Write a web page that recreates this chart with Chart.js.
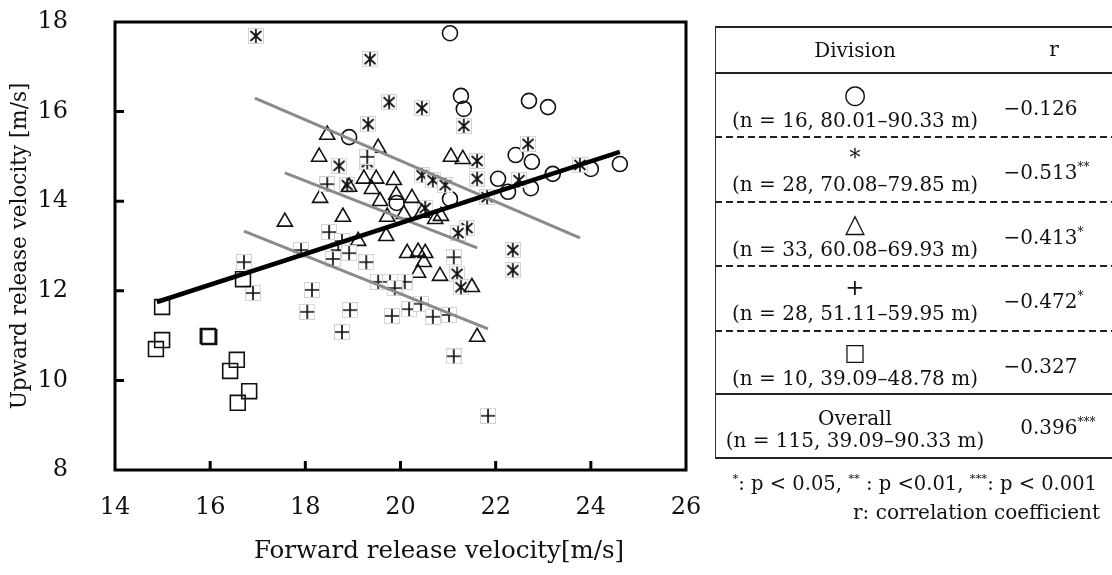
<!DOCTYPE html>
<html>
<head>
<meta charset="utf-8">
<script src="https://cdn.jsdelivr.net/npm/chart.js@4.4.0/dist/chart.umd.min.js"></script>
<style>
  html, body { margin: 0; padding: 0; background: #fff; }
  body { width: 1112px; height: 575px; position: relative; overflow: hidden; font-family: 'DejaVu Serif', serif; color: #111; }
  #chartBox { position: absolute; left: 0; top: 0; width: 712px; height: 575px; }
  .rule { position: absolute; left: 715px; right: 0; background: #222; }
  .dash { position: absolute; left: 715px; right: 0; height: 2px;
          background: repeating-linear-gradient(to right, #222 0 7px, transparent 7px 11px); }
  .txt { position: absolute; white-space: nowrap; line-height: 1; will-change: transform; }
  .sup { font-size: 0.6em; position: relative; top: -0.7em; }
</style>
</head>
<body>
<div id="chartBox"><canvas id="scatterChart" width="712" height="575"></canvas></div>
<script>
// groups by throwing distance: x = forward, y = upward release velocity [m/s]
const circleX = [21.04, 21.27, 21.33, 22.70, 23.10, 22.42, 22.76, 22.05, 22.26, 22.74, 23.20, 24.00, 24.61, 21.04, 19.92, 18.92];
const circleY = [17.75, 16.35, 16.06, 16.24, 16.10, 15.03, 14.88, 14.50, 14.21, 14.29, 14.61, 14.72, 14.83, 14.05, 13.96, 15.43];

const starX = [16.96, 19.36, 19.76, 20.45, 21.33, 22.68, 21.61, 21.61, 20.45, 20.68, 20.94, 21.82, 22.49, 23.77,
               20.52, 21.40, 21.21, 19.32, 18.71, 19.30, 18.88, 22.36, 22.36, 21.19, 21.27];
const starY = [17.69, 17.17, 16.21, 16.08, 15.68, 15.28, 14.90, 14.50, 14.58, 14.47, 14.36, 14.09, 14.47, 14.81,
               13.85, 13.40, 13.29, 15.72, 14.79, 14.87, 14.36, 12.91, 12.46, 12.38, 12.08];

const triX = [18.46, 19.53, 18.29, 19.23, 19.49, 19.86, 18.92, 19.40, 18.31, 19.57, 19.91, 20.24, 17.57, 18.79, 19.72, 20.07,
              19.70, 21.06, 21.31, 20.45, 20.73, 20.85, 20.14, 20.37, 20.52, 20.49, 20.37, 20.83, 19.11, 21.50, 21.61];
const triY = [15.48, 15.19, 14.99, 14.50, 14.50, 14.47, 14.32, 14.27, 14.07, 14.00, 14.14, 14.07, 13.54, 13.65, 13.65, 13.71,
              13.22, 14.99, 14.94, 13.74, 13.60, 13.67, 12.84, 12.87, 12.84, 12.64, 12.40, 12.33, 13.11, 12.08, 10.97];

const plusX = [19.30, 18.46, 18.50, 18.77, 18.69, 18.92, 18.58, 19.28, 17.91, 16.71, 16.90, 18.14, 18.04, 18.94,
               18.77, 19.53, 19.78, 20.09, 19.88, 19.82, 20.18, 20.43, 20.68, 21.02, 21.12, 21.12, 21.84];
const plusY = [14.99, 14.38, 13.31, 13.11, 12.91, 12.84, 12.71, 12.64, 12.91, 12.64, 11.95, 12.02, 11.53, 11.57,
               11.08, 12.20, 12.20, 12.20, 12.06, 11.44, 11.59, 11.71, 11.42, 11.46, 12.75, 10.54, 9.21];

const squareX = [14.99, 14.99, 14.86, 15.95, 15.98, 16.69, 16.56, 16.42, 16.82, 16.58];
const squareY = [11.64, 10.90, 10.70, 10.99, 10.97, 12.26, 10.46, 10.21, 9.76, 9.50];

// regression line end points
const overallLineX = [14.88, 24.61];
const overallLineY = [11.75, 15.10];
const starLineX = [16.94, 23.77];
const starLineY = [16.30, 13.18];
const triLineX = [17.57, 21.61];
const triLineY = [14.63, 12.96];
const plusLineX = [16.71, 21.84];
const plusLineY = [13.33, 11.15];

const xTicks = [14, 16, 18, 20, 22, 24, 26];
const yTicks = [8, 10, 12, 14, 16, 18];

// table on the right
const divSymbols = ['○', '*', '△', '+', '□'];
const divLabels = ['(n = 16, 80.01–90.33 m)', '(n = 28, 70.08–79.85 m)', '(n = 33, 60.08–69.93 m)',
                   '(n = 28, 51.11–59.95 m)', '(n = 10, 39.09–48.78 m)'];
const divR = ['−0.126', '−0.513', '−0.413', '−0.472', '−0.327'];
const divStars = ['', '**', '*', '*', ''];
const overallLabel = '(n = 115, 39.09–90.33 m)';
const overallR = '0.396';
const overallStars = '***';

const symbolSize = [26, 22, 26, 23, 23];

const pts = (xs, ys) => xs.map((x, i) => ({ x, y: ys[i] }));

function boxedMarker(kind) {
    const c = document.createElement('canvas');
    c.width = 16; c.height = 16;
    const g = c.getContext('2d');
    g.fillStyle = '#fff';
    g.fillRect(0.5, 0.5, 15, 15);
    g.strokeStyle = '#d2d2d2';
    g.lineWidth = 1;
    g.strokeRect(0.5, 0.5, 15, 15);
    g.strokeStyle = '#111';
    g.lineWidth = 1.7;
    g.beginPath();
    g.moveTo(8, 1); g.lineTo(8, 15);
    if (kind === 'plus') {
        g.moveTo(1, 8); g.lineTo(15, 8);
    } else {
        g.moveTo(2.5, 3); g.lineTo(13.5, 13);
        g.moveTo(13.5, 3); g.lineTo(2.5, 13);
    }
    g.stroke();
    return c;
}

const markerBase = { borderColor: '#111', backgroundColor: 'rgba(0,0,0,0)', pointBorderWidth: 1.6, showLine: false };
const lineBase = { showLine: true, pointRadius: 0, fill: false, order: 0 };

// frame round the plot and inward tick marks
const framePlugin = {
    id: 'frame',
    afterDraw(chart) {
        const { ctx, chartArea: a, scales } = chart;
        ctx.save();
        ctx.strokeStyle = '#000';
        ctx.lineWidth = 3;
        ctx.strokeRect(a.left, a.top, a.right - a.left, a.bottom - a.top);
        ctx.beginPath();
        xTicks.slice(1, -1).forEach(v => {
            const px = scales.x.getPixelForValue(v);
            ctx.moveTo(px, a.bottom); ctx.lineTo(px, a.bottom - 9);
        });
        yTicks.slice(1, -1).forEach(v => {
            const py = scales.y.getPixelForValue(v);
            ctx.moveTo(a.left, py); ctx.lineTo(a.left + 9, py);
        });
        ctx.stroke();
        ctx.restore();
    }
};

const axisFont = { family: 'DejaVu Serif', size: 24 };

new Chart(document.getElementById('scatterChart'), {
    type: 'scatter',
    data: {
        datasets: [
            { ...lineBase, data: pts(overallLineX, overallLineY), borderColor: '#000', borderWidth: 4.5 },
            { ...lineBase, data: pts(starLineX, starLineY), borderColor: '#8a8a8a', borderWidth: 3 },
            { ...lineBase, data: pts(triLineX, triLineY), borderColor: '#8a8a8a', borderWidth: 3 },
            { ...lineBase, data: pts(plusLineX, plusLineY), borderColor: '#8a8a8a', borderWidth: 3 },
            { ...markerBase, data: pts(circleX, circleY), pointStyle: 'circle', pointRadius: 7.5, order: 5 },
            { ...markerBase, data: pts(starX, starY), pointStyle: boxedMarker('star'), pointRadius: 8, order: 4 },
            { ...markerBase, data: pts(triX, triY), pointStyle: 'triangle', pointRadius: 8.7, order: 3 },
            { ...markerBase, data: pts(plusX, plusY), pointStyle: boxedMarker('plus'), pointRadius: 8, order: 2 },
            { ...markerBase, data: pts(squareX, squareY), pointStyle: 'rect', pointRadius: 10.5, order: 1 }
        ]
    },
    options: {
        responsive: false,
        animation: false,
        events: [],
        layout: { padding: { left: 0, top: 22, right: 26, bottom: 0 } },
        plugins: { legend: { display: false }, tooltip: { enabled: false } },
        scales: {
            x: {
                type: 'linear', min: 14, max: 26,
                afterBuildTicks: s => { s.ticks = xTicks.map(v => ({ value: v })); },
                afterFit: s => { s.height = 105; s.paddingLeft = 0; s.paddingRight = 0; },
                grid: { display: false, drawTicks: false },
                border: { display: false },
                ticks: { color: '#111', font: axisFont, padding: 23 },
                title: { display: false }
            },
            y: {
                type: 'linear', min: 8, max: 18,
                afterBuildTicks: s => { s.ticks = yTicks.map(v => ({ value: v })); },
                afterFit: s => { s.width = 115; s.paddingTop = 0; s.paddingBottom = 0; },
                grid: { display: false, drawTicks: false },
                border: { display: false },
                ticks: { color: '#111', font: axisFont, padding: 47 },
                title: { display: true, text: 'Upward release velocity [m/s]', color: '#111',
                         font: { family: 'DejaVu Serif', size: 21.5 }, padding: { top: 8, bottom: 0 } }
            }
        }
    },
    plugins: [framePlugin]
});

// text placed on the page: axis title under the plot and the table beside it
function put(html, x, y, size, align) {
    const d = document.createElement('div');
    d.className = 'txt';
    d.style.fontSize = size + 'px';
    d.innerHTML = html;
    d.style.left = x + 'px';
    d.style.top = y + 'px';
    const tx = align === 'right' ? '-100%' : align === 'left' ? '0' : '-50%';
    d.style.transform = 'translate(' + tx + ',-50%)';
    document.body.appendChild(d);
}
function rule(y, h, dashed) {
    const d = document.createElement('div');
    d.className = dashed ? 'dash' : 'rule';
    d.style.top = (y - h / 2) + 'px';
    d.style.height = h + 'px';
    document.body.appendChild(d);
}
// r values lined up on the decimal point
function putR(val, stars, y) {
    const [intPart, frac] = val.split('.');
    put(intPart, 1033, y, 20, 'right');
    put('.' + frac + (stars ? '<span class="sup">' + stars + '</span>' : ''), 1033, y, 20, 'left');
}

put('Forward release velocity[m/s]', 439, 550, 24.5);

const rowEdges = [73, 137, 202, 266, 331, 394, 458];
const colDiv = 855, colR = 1054;

rule(27, 2, false);
rule(73, 1.5, false);
rule(394, 1.5, false);
rule(458, 2, false);
[137, 202, 266, 331].forEach(y => rule(y, 2, true));
const side = document.createElement('div');
side.style.cssText = 'position:absolute;left:715px;top:27px;width:1px;height:431px;background:#333;';
document.body.appendChild(side);

put('Division', colDiv, 50, 20);
put('r', colR, 49, 20);
divSymbols.forEach((sym, i) => {
    const top = rowEdges[i];
    put(sym, colDiv, top + 21, symbolSize[i]);
    put(divLabels[i], colDiv, top + 47, 20);
    putR(divR[i], divStars[i], top + 35);
});
put('Overall', colDiv, 418, 20);
put(overallLabel, colDiv, 440, 20);
putR(overallR, overallStars, 427);

put('<span class="sup">*</span>: p &lt; 0.05, <span class="sup">**</span> : p &lt;0.01, <span class="sup">***</span>: p &lt; 0.001', 1097, 484, 19.5, 'right');
put('r: correlation coefficient', 1100, 512, 20, 'right');
</script>
</body>
</html>
